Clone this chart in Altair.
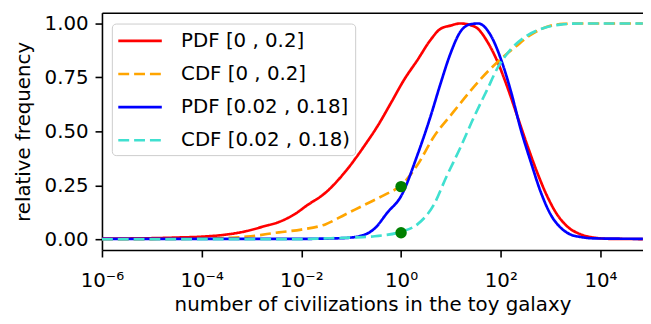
import altair as alt
import pandas as pd

series_names = ["PDF [0 , 0.2]", "CDF [0 , 0.2]", "PDF [0.02 , 0.18]", "CDF [0.02 , 0.18)"]
series_colors = ["#ff0000", "#ffa500", "#0000ff", "#40e0d0"]
series_dash = [[1, 0], [11, 5], [1, 0], [11, 5]]

# x positions are given as log10 exponents
red_exp = [-6, -5, -4.5, -4, -3.5, -3.1, -2.75, -2.45, -2.11, -1.9, -1.52, -1.12, -0.73, -0.465,
           -0.2, 0.063, 0.327, 0.592, 0.789, 0.99, 1.185, 1.48, 1.745, 1.94, 2.14, 2.34, 2.54,
           2.73, 2.93, 3.13, 3.33, 3.59, 3.86, 4.2, 4.85]
red_val = [0.003, 0.005, 0.008, 0.012, 0.022, 0.038, 0.06, 0.08, 0.12, 0.155, 0.215, 0.313, 0.435,
           0.527, 0.633, 0.74, 0.83, 0.924, 0.975, 0.99, 1.0, 0.985, 0.91, 0.82, 0.70, 0.565, 0.43,
           0.31, 0.20, 0.115, 0.06, 0.024, 0.008, 0.002, 0.001]

orange_exp = [-6, -5, -4, -3.5, -3.1, -2.45, -2.0, -1.52, -1.12, -0.73, -0.33, 0.0, 0.327, 0.657,
              1.05, 1.4, 1.75, 2.0, 2.3, 2.6, 2.93, 3.26, 3.6, 4.85]
orange_val = [0.0, 0.001, 0.003, 0.006, 0.012, 0.032, 0.045, 0.069, 0.115, 0.16, 0.206, 0.25, 0.344,
              0.475, 0.59, 0.69, 0.78, 0.835, 0.893, 0.947, 0.985, 0.998, 1.0, 1.0]

blue_exp = [-6, -2, -1.2, -0.86, -0.53, -0.27, 0.0, 0.327, 0.592, 0.79, 0.99, 1.185, 1.37, 1.547,
            1.81, 2.01, 2.21, 2.40, 2.60, 2.80, 3.0, 3.2, 3.39, 3.59, 3.9, 4.85]
blue_val = [0.002, 0.002, 0.005, 0.013, 0.05, 0.125, 0.2, 0.39, 0.57, 0.72, 0.86, 0.96, 0.995, 1.0,
            0.94, 0.83, 0.68, 0.51, 0.36, 0.22, 0.115, 0.054, 0.023, 0.011, 0.004, 0.002]

cyan_exp = [-6, -2, -1.52, -1.0, -0.53, 0.0, 0.327, 0.657, 0.91, 1.2, 1.45, 1.72, 1.95, 2.2, 2.5,
            2.85, 3.2, 3.6, 4.85]
cyan_val = [0.0, 0.001, 0.004, 0.008, 0.014, 0.035, 0.069, 0.16, 0.29, 0.43, 0.56, 0.69, 0.80, 0.88,
            0.94, 0.978, 0.995, 1.0, 1.0]

dot_x = [1, 1]
dot_y = [0.244, 0.03]

x_tick_values = [1e-6, 1e-4, 1e-2, 1, 1e2, 1e4]
x_tick_labels = ["10⁻⁶", "10⁻⁴", "10⁻²", "10⁰", "10²", "10⁴"]
y_tick_values = [0, 0.25, 0.5, 0.75, 1.0]

rows = []
for name, exps, vals in zip(series_names,
                            [red_exp, orange_exp, blue_exp, cyan_exp],
                            [red_val, orange_val, blue_val, cyan_val]):
    for e, v in zip(exps, vals):
        rows.append({"series": name, "x": 10 ** e, "y": v})
df = pd.DataFrame(rows)
dots = pd.DataFrame({"x": dot_x, "y": dot_y})

FONT = "DejaVu Sans"
x_scale = alt.Scale(type="log", domain=[1e-6, 10 ** 4.853], nice=False)
y_scale = alt.Scale(domain=[-0.05, 1.05], nice=False, zero=False)
color_scale = alt.Scale(domain=series_names, range=series_colors)
dash_scale = alt.Scale(domain=series_names, range=series_dash)

label_list = "[" + ",".join("'" + s + "'" for s in x_tick_labels) + "]"
label_expr = label_list + "[round((log(datum.value)/log(10)+6)/2)]"

x_axis = alt.Axis(values=x_tick_values, labelExpr=label_expr, labelBaseline="alphabetic",
                  labelPadding=30, labelFlush=False, labelOverlap=False,
                  title="number of civilizations in the toy galaxy",
                  titleY=61, titleBaseline="alphabetic")
y_axis = alt.Axis(values=y_tick_values, format=".2f", labelPadding=7,
                  title="relative frequency", titleX=-73, titleY=120, titleAngle=270,
                  titleBaseline="alphabetic", titleAlign="center")
top_axis = alt.Axis(orient="top", labels=False, ticks=False, title=None, domain=True, grid=False)

legend = alt.Legend(title=None, orient="none", legendX=10, legendY=11, labelFontSize=20,
                    labelFont=FONT, labelColor="black", symbolType="M-1,0H3", symbolSize=484,
                    symbolStrokeWidth=2.7, rowPadding=10.5, padding=5, strokeColor="#cccccc",
                    fillColor="rgba(255,255,255,0.8)", cornerRadius=4, labelOffset=40,
                    labelLimit=0)

line_layers = []
for name in series_names:
    line_layers.append(
        alt.Chart(df).transform_filter(alt.datum.series == name)
        .mark_line(strokeWidth=2.7, interpolate="monotone", clip=True)
        .encode(
            x=alt.X("x:Q", scale=x_scale, axis=x_axis),
            y=alt.Y("y:Q", scale=y_scale, axis=y_axis),
            color=alt.Color("series:N", scale=color_scale, legend=legend),
            strokeDash=alt.StrokeDash("series:N", scale=dash_scale, legend=legend),
        )
    )
lines = alt.layer(*line_layers)

points = alt.Chart(dots).mark_circle(size=133, color="green", opacity=1).encode(
    x=alt.X("x:Q", scale=x_scale, axis=top_axis),
    y=alt.Y("y:Q", scale=y_scale),
)

chart = (
    alt.layer(lines, points)
    .resolve_axis(x="independent")
    .properties(width=547, height=240, padding={"left": 95, "top": 3, "right": 0, "bottom": 71},
                autosize="none")
    .configure_view(stroke=None)
    .configure_axis(labelFont=FONT, labelFontSize=20, labelColor="black", titleFont=FONT,
                    titleFontSize=20, titleColor="black", titleFontWeight="normal",
                    tickColor="black", tickWidth=1.6, tickSize=7, domainColor="black",
                    domainWidth=1.6, grid=False)
)

chart.save("out.html", embed_options={"renderer": "svg", "actions": False})
